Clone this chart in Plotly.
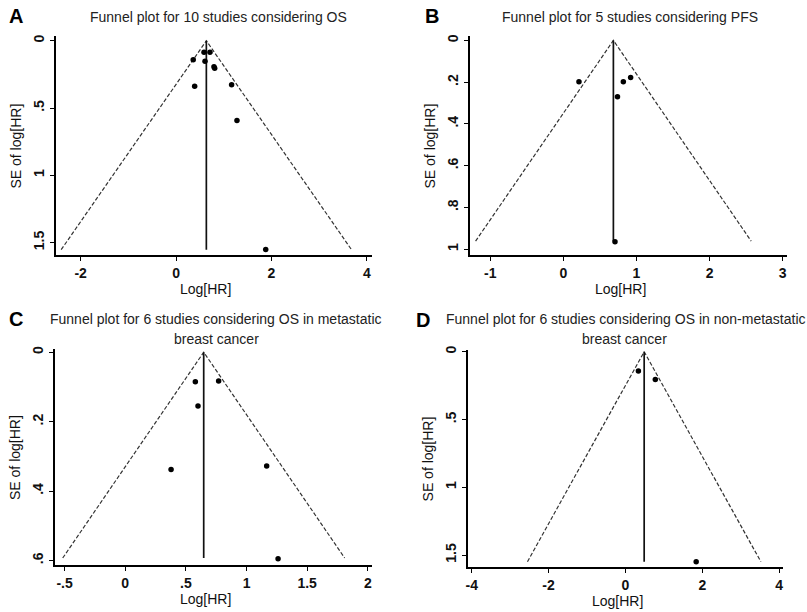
import plotly.graph_objects as go

W, H = 807, 612

# --- data ----------------------------------------------------------------
# pooled log[HR] (funnel centre) and largest SE per panel
A_center, A_semax = 0.635, 1.553
B_center, B_semax = 0.684, 0.962
C_center, C_semax = 0.647, 0.593
D_center, D_semax = 0.487, 1.549

A_loghr = [0.36, 0.586, 0.711, 0.607, 0.795, 0.81, 0.39, 1.165, 1.277, 1.88]
A_se = [0.142, 0.086, 0.086, 0.152, 0.194, 0.205, 0.339, 0.327, 0.592, 1.551]

B_loghr = [0.213, 0.82, 0.92, 0.74, 0.706]
B_se = [0.198, 0.198, 0.178, 0.27, 0.965]

C_loghr = [0.578, 0.77, 0.60, 0.378, 1.166, 1.26]
C_se = [0.085, 0.083, 0.155, 0.338, 0.328, 0.595]

D_loghr = [0.337, 0.777, 1.84]
D_se = [0.142, 0.204, 1.549]

A_xticks = [-2, 0, 2, 4]
A_xtext = ["-2", "0", "2", "4"]
A_yticks = [0, 0.5, 1, 1.5]
A_ytext = ["0", ".5", "1", "1.5"]

B_xticks = [-1, 0, 1, 2, 3]
B_xtext = ["-1", "0", "1", "2", "3"]
B_yticks = [0, 0.2, 0.4, 0.6, 0.8, 1]
B_ytext = ["0", ".2", ".4", ".6", ".8", "1"]

C_xticks = [-0.5, 0, 0.5, 1, 1.5, 2]
C_xtext = ["-.5", "0", ".5", "1", "1.5", "2"]
C_yticks = [0, 0.2, 0.4, 0.6]
C_ytext = ["0", ".2", ".4", ".6"]

D_xticks = [-4, -2, 0, 2, 4]
D_xtext = ["-4", "-2", "0", "2", "4"]
D_yticks = [0, 0.5, 1, 1.5]
D_ytext = ["0", ".5", "1", "1.5"]

FONT = "Liberation Sans, Arial, Helvetica, sans-serif"

panels = [
    dict(letter="A", lpos=(5, 12), title=["Funnel plot for 10 studies considering OS"],
         c=A_center, semax=A_semax, x=A_loghr, y=A_se,
         xt=A_xticks, xl=A_xtext, yt=A_yticks, yl=A_ytext,
         box=(54, 371, 32, 253), xr=[-2.52, 4.11], yr=[1.595, -0.037]),
    dict(letter="B", lpos=(422, 12), title=["Funnel plot for 5 studies considering PFS"],
         c=B_center, semax=B_semax, x=B_loghr, y=B_se,
         xt=B_xticks, xl=B_xtext, yt=B_yticks, yl=B_ytext,
         box=(469, 787, 32, 253), xr=[-1.28, 3.06], yr=[1.03, -0.022]),
    dict(letter="C", lpos=(5, 317),
         title=["Funnel plot for 6 studies considering OS in metastatic",
                "breast cancer"],
         c=C_center, semax=C_semax, x=C_loghr, y=C_se,
         xt=C_xticks, xl=C_xtext, yt=C_yticks, yl=C_ytext,
         box=(53, 371, 347, 565), xr=[-0.58, 2.035], yr=[0.614, -0.01]),
    dict(letter="D", lpos=(413, 318),
         title=["Funnel plot for 6 studies considering OS in non-metastatic",
                "breast cancer"],
         c=D_center, semax=D_semax, x=D_loghr, y=D_se,
         xt=D_xticks, xl=D_xtext, yt=D_yticks, yl=D_ytext,
         box=(467, 783, 348, 567), xr=[-4.1, 4.1], yr=[1.59, -0.015]),
]


def px(x):
    return x / W


def py(y):
    return 1 - y / H


fig = go.Figure()
layout = {}
annotations = []

for i, p in enumerate(panels):
    n = "" if i == 0 else str(i + 1)
    xa, ya = "x" + n, "y" + n
    l, r, t, b = p["box"]

    # funnel: pseudo 95% limits around the pooled estimate
    half = 1.96 * p["semax"]
    fig.add_trace(go.Scatter(
        x=[p["c"] - half, p["c"], p["c"] + half], y=[p["semax"], 0, p["semax"]],
        mode="lines", line=dict(color="#333", width=1.2, dash="4px,2px"),
        xaxis=xa, yaxis=ya, hoverinfo="skip", showlegend=False,
    ))
    fig.add_trace(go.Scatter(
        x=[p["c"], p["c"]], y=[0, p["semax"]],
        mode="lines", line=dict(color="#111", width=1.7),
        xaxis=xa, yaxis=ya, hoverinfo="skip", showlegend=False,
    ))
    fig.add_trace(go.Scatter(
        x=p["x"], y=p["y"], mode="markers",
        marker=dict(color="#000", size=5.5),
        xaxis=xa, yaxis=ya, showlegend=False,
    ))

    common = dict(showgrid=False, zeroline=False, showline=True,
                  linecolor="#000", linewidth=1.7, ticks="outside",
                  ticklen=4, tickwidth=1.3, tickcolor="#000",
                  tickfont=dict(family=FONT, size=14, color="#111", weight="bold"))
    layout["xaxis" + n] = dict(common, domain=[px(l), px(r)], range=p["xr"],
                               anchor=ya, tickmode="array",
                               tickvals=p["xt"], ticktext=p["xl"])
    layout["yaxis" + n] = dict(common, domain=[py(b), py(t)], range=p["yr"],
                               anchor=xa, tickmode="array", tickangle=-90,
                               tickvals=p["yt"], ticktext=p["yl"])

    # panel letter
    lx, ly = p["lpos"]
    annotations.append(dict(
        text="<b>" + p["letter"] + "</b>", x=px(lx), y=py(ly),
        xref="paper", yref="paper", xanchor="left", yanchor="middle",
        showarrow=False, font=dict(family=FONT, size=20, color="#000"),
    ))
    # axis titles
    annotations.append(dict(
        text="Log[HR]", x=px((l + r) / 2 - 8), y=py(b + 34),
        xref="paper", yref="paper", xanchor="center", yanchor="middle",
        showarrow=False, font=dict(family=FONT, size=14, color="#111"),
    ))
    annotations.append(dict(
        text="SE of log[HR]", x=px(l - 40), y=py((t + b) / 2),
        xref="paper", yref="paper", xanchor="center", yanchor="middle",
        textangle=-90, showarrow=False,
        font=dict(family=FONT, size=14, color="#111"),
    ))

# titles
title_font = dict(family=FONT, size=14, color="#222")
title_pos = [
    (panels[0]["title"][0], 217, 13, "center"),
    (panels[1]["title"][0], 630, 13, "center"),
    (panels[2]["title"][0], 215, 317, "center"),
    (panels[2]["title"][1], 215, 337, "center"),
    (panels[3]["title"][0], 443, 317, "left"),
    (panels[3]["title"][1], 624, 337, "center"),
]
for text, x, y, anchor in title_pos:
    annotations.append(dict(text=text, x=px(x), y=py(y),
                            xref="paper", yref="paper", showarrow=False,
                            xanchor=anchor, yanchor="middle", font=title_font))

fig.update_layout(
    **layout,
    annotations=annotations,
    width=W, height=H,
    margin=dict(l=0, r=0, t=0, b=0),
    paper_bgcolor="white", plot_bgcolor="white",
    showlegend=False,
)

# drop the browser's default body margin so the figure sits at the page corner
fig.write_html("out.html",
               config={"displayModeBar": False},
               post_script="document.body.style.margin='0';"
                           "document.body.style.overflow='hidden';")
